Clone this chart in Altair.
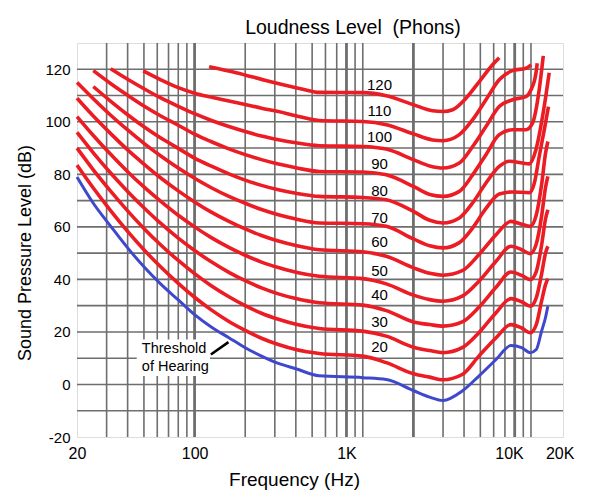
import altair as alt
import pandas as pd

# ---------------- data ----------------
F_LOW = [20, 25, 31.5, 40, 50, 63, 80, 100, 125, 160, 200, 250, 315, 400, 550]
F_HIGH = [1000, 1380, 2000, 2500, 3000, 3900, 4900, 6200, 7600, 8800, 9900, 10750, 11560, 12200, 12600]

# threshold of hearing (blue)
DB_T = [79, 69, 60.5, 52, 44.8, 38.2, 32.2, 26.6, 22, 17.8, 14, 10.8, 8, 6, 3.3,
        2.6, 1.9, -2.3, -4.8, -6.1, -2.5, 3.2, 9.5, 14.8, 14, 12.1, 13.3, 20.3, 25.5, 29.8]
DB_20 = [83.5, 74.8, 66.4, 58.3, 51.3, 44.7, 38.5, 33.2, 28.5, 24.0, 20.6, 17.6, 15.2, 13.3, 11.8,
         10.8, 8.3, 4.1, 2.8, 1.8, 3.8, 10.8, 17.8, 22.8, 21.5, 19.7, 22.8, 31.7, 38, 40.3]
DB_30 = [90, 81.7, 73.8, 66.1, 59.4, 53.1, 47.2, 42.2, 37.7, 33.4, 30.0, 27.1, 24.8, 22.9, 21.3,
         20.3, 18.4, 14.2, 12.9, 12.1, 14, 19.7, 27.3, 32.7, 31.5, 29.8, 33, 42, 50, 52.6]
DB_40 = [96, 88.2, 80.7, 73.5, 67.3, 61.3, 55.7, 51.0, 46.8, 42.7, 39.5, 36.8, 34.5, 32.7, 31.1,
         30.2, 28.1, 23.8, 22.8, 22.2, 23.8, 29.4, 37, 42.8, 41.5, 39.9, 43, 53, 63, 66.5]
DB_50 = [102, 94.8, 87.8, 81.0, 75.2, 69.7, 64.4, 60.0, 56.0, 52.2, 49.2, 46.6, 44.5, 42.7, 41.2,
         40.3, 38.3, 34, 32.3, 31.7, 33.6, 39.3, 46.9, 52.6, 51.3, 49.8, 53.5, 64, 75, 79.2]
DB_60 = [109, 102.2, 95.7, 89.3, 83.9, 78.6, 73.7, 69.5, 65.7, 62.1, 59.2, 56.7, 54.6, 52.9, 51.3,
         50.5, 48.8, 44.4, 42.3, 41.6, 43.3, 49.4, 57, 62.1, 61, 60.2, 64.5, 76, 88, 92.5]

F_70 = F_LOW + [1000, 1380, 2000, 2500, 3000, 3750, 4500, 5400, 6475, 7770, 9760, 10500, 11190, 12000, 12700]
DB_70 = [115, 108.8, 102.7, 96.9, 91.8, 87.0, 82.4, 78.5, 75.0, 71.6, 69.0, 66.6, 64.6, 63.0, 61.5,
         61.2, 60.2, 55.4, 52.8, 52.0, 54, 59.6, 67, 72.5, 73.3, 73, 77, 86.8, 97, 105.8]

F_80 = [25, 31.5, 40, 50, 63, 80, 100, 125, 160, 200, 250, 315, 400, 550,
        1000, 1380, 2000, 2500, 3000, 3750, 4500, 5400, 6475, 7430, 9760, 10700, 11980, 12830]
DB_80 = [113.4, 108.0, 102.7, 98.1, 93.8, 89.9, 86.2, 83.2, 80.2, 77.8, 75.8, 74.1, 72.8, 71.6,
         71.2, 70.3, 65.9, 62.5, 61.5, 63.4, 69.1, 76.7, 83, 85, 84, 89.4, 105.8, 118.7]

F_90 = [25, 31.5, 40, 50, 63, 80, 100, 125, 160, 200, 250, 315, 400, 550,
        1000, 1380, 2000, 2500, 3000, 3750, 4500, 5400, 6475, 7770, 9330, 10210, 11190, 11830]
DB_90 = [119.5, 114.7, 110.1, 106.0, 102.2, 98.7, 95.3, 92.5, 89.7, 87.5, 85.6, 83.9, 82.5, 81.1,
         80.9, 79.8, 75.4, 72.3, 71.6, 73.5, 79.8, 87.5, 95.1, 97, 97, 99.5, 112.2, 125.1]

F_100 = [31.7, 40, 50, 63, 80, 100, 125, 160, 200, 250, 315, 400, 550,
         1000, 1380, 2000, 2500, 3000, 3750, 4500, 5400, 6475, 7770, 9330, 10000, 10700, 10890]
DB_100 = [120.2, 116.2, 112.6, 109.1, 105.9, 103.1, 100.6, 98.2, 96.3, 94.6, 93.2, 92.0, 90.9,
          90.6, 89.6, 85.6, 83.2, 82.4, 84.3, 90.6, 98.2, 105.8, 108.4, 109.6, 112.2, 118.5, 122.3]

F_110 = [49.5, 63, 80, 100, 125, 160, 200, 250, 315, 400, 550,
         1000, 1380, 2000, 2600, 3000, 3750, 4500, 5400, 6475, 7770, 9330, 10025]
DB_110 = [119.4, 116, 113, 110.9, 109.4, 107.9, 106.6, 105.2, 103.9, 102.3, 100.5,
          100.1, 98.9, 95.4, 93.1, 92.8, 95.1, 100.8, 108.4, 116, 119.5, 120.4, 121.7]

F_120 = [122, 177, 280, 440, 554, 1000, 1380, 2000, 2600, 3000, 3420, 4110, 4930, 5910, 6475]
DB_120 = [121, 118.7, 115.3, 112.4, 111.2, 111.1, 109.9, 106.5, 104.2, 103.9, 104.6, 109, 115.3, 121.7, 124.4]

# curve labels (phons)
LABEL_TEXT = ["120", "110", "100", "90", "80", "70", "60", "50", "40", "30", "20"]
LABEL_DB = [114.1, 104.2, 94.2, 83.9, 73.5, 63.4, 54.3, 43.3, 34.2, 23.8, 14.2]
LABEL_F = 1257

# threshold annotation
ANNOT_TEXT = ["Threshold", "of Hearing"]
ANNOT_DB = [13.6, 6.8]
ANNOT_F = 48.6
BOX_F = [45.3, 123.5]
BOX_DB = [3.2, 17.1]
POINTER_F = [125, 159]
POINTER_DB = [11.4, 16.1]

# axis ticks and grid
X_TICK_VALUES = [20, 100, 800, 7400, 14800]
X_TICK_TEXT = ["20", "100", "1K", "10K", "20K"]
GRID_THIN = [30, 40, 50, 60, 70, 80, 90, 200, 300, 400, 500, 600, 700, 900, 1000,
             3000, 4000, 5000, 6000, 7000, 9000, 10000]
GRID_THICK = [100, 800, 2000, 8000]
Y_TICKS = [-20, 0, 20, 40, 60, 80, 100, 120]
Y_GRID = [-10, 0, 10, 20, 30, 40, 50, 60, 70, 80, 90, 100, 110, 120]

# ---------------- build tables ----------------
red_curves = [
    ("20", F_LOW + F_HIGH, DB_20), ("30", F_LOW + F_HIGH, DB_30),
    ("40", F_LOW + F_HIGH, DB_40), ("50", F_LOW + F_HIGH, DB_50),
    ("60", F_LOW + F_HIGH, DB_60), ("70", F_70, DB_70),
    ("80", F_80, DB_80), ("90", F_90, DB_90), ("100", F_100, DB_100),
    ("110", F_110, DB_110), ("120", F_120, DB_120),
]
rows = []
for name, fs, dbs in red_curves:
    for i, (f, d) in enumerate(zip(fs, dbs)):
        rows.append({"curve": name, "freq": f, "spl": d, "i": i})
red_df = pd.DataFrame(rows)
blue_df = pd.DataFrame({"freq": F_LOW + F_HIGH, "spl": DB_T, "i": list(range(len(DB_T)))})

labels_df = pd.DataFrame({"text": LABEL_TEXT, "spl": LABEL_DB, "freq": [LABEL_F] * len(LABEL_TEXT)})
annot_df = pd.DataFrame({"text": ANNOT_TEXT, "spl": ANNOT_DB, "freq": [ANNOT_F] * 2})
box_df = pd.DataFrame({"f1": [BOX_F[0]], "f2": [BOX_F[1]], "d1": [BOX_DB[0]], "d2": [BOX_DB[1]]})
ptr_df = pd.DataFrame({"f1": [POINTER_F[0]], "f2": [POINTER_F[1]], "d1": [POINTER_DB[0]], "d2": [POINTER_DB[1]]})
thin_df = pd.DataFrame({"freq": GRID_THIN})
thick_df = pd.DataFrame({"freq": GRID_THICK})
ygrid_df = pd.DataFrame({"spl": Y_GRID})

RED = "#ec1c24"
BLUE = "#3f48cc"
GRID = "#6e6e6e"
FONT = "Liberation Sans"

xscale = alt.Scale(type="log", domain=[20, 15500], nice=False)
yscale = alt.Scale(domain=[-20, 130], nice=False)

label_expr = " : ".join(
    f"datum.value == {v} ? '{t}'" for v, t in zip(X_TICK_VALUES, X_TICK_TEXT)
) + " : ''"

x_axis = alt.Axis(
    values=X_TICK_VALUES, labelExpr=label_expr, grid=False, ticks=False, domain=False,
    labelFontSize=16, labelPadding=8, labelFlush=False, labelOverlap=False,
    labelColor="black", labelFont=FONT,
    title="Frequency (Hz)", titleFontSize=19, titleFontWeight="normal", titleColor="black",
    titleFont=FONT, titleBaseline="alphabetic", titleY=48, titleX=217, titleAlign="center",
)
y_axis = alt.Axis(
    values=Y_TICKS, labelExpr="'' + datum.value", grid=False, ticks=False, domain=False,
    labelFontSize=15, labelPadding=7, labelColor="black", labelFont=FONT,
    title="Sound Pressure Level (dB)", titleFontSize=18, titleFontWeight="normal",
    titleColor="black", titleFont=FONT, titleBaseline="alphabetic", titleAngle=270,
    titleX=-47, titleY=209.5, titleAlign="center",
)

X = lambda f="freq": alt.X(f"{f}:Q", scale=xscale, axis=x_axis)
Y = lambda f="spl": alt.Y(f"{f}:Q", scale=yscale, axis=y_axis)

thin = alt.Chart(thin_df).mark_rule(color=GRID, strokeWidth=1.6).encode(x=X())
thick = alt.Chart(thick_df).mark_rule(color=GRID, strokeWidth=2.8).encode(x=X())
ygrid = alt.Chart(ygrid_df).mark_rule(color=GRID, strokeWidth=1.6).encode(y=Y())

box = alt.Chart(box_df).mark_rect(color="white").encode(
    x=X("f1"), x2="f2", y=Y("d1"), y2="d2")
annot = alt.Chart(annot_df).mark_text(
    align="left", baseline="middle", fontSize=14.5, font=FONT, color="black"
).encode(x=X(), y=Y(), text="text:N")
pointer = alt.Chart(ptr_df).mark_rule(color="black", strokeWidth=2.6).encode(
    x=X("f1"), x2="f2", y=Y("d1"), y2="d2")

red = alt.Chart(red_df).mark_line(
    color=RED, strokeWidth=3.6, interpolate="monotone"
).encode(x=X(), y=Y(), detail="curve:N", order="i:Q")
blue = alt.Chart(blue_df).mark_line(
    color=BLUE, strokeWidth=3.0, interpolate="monotone"
).encode(x=X(), y=Y(), order="i:Q")

labels = alt.Chart(labels_df).mark_text(
    align="center", baseline="middle", fontSize=15, font=FONT, color="black"
).encode(x=X(), y=Y(), text="text:N")

chart = alt.layer(thin, thick, ygrid, box, annot, pointer, red, blue, labels).properties(
    width=486, height=394,
    autosize=alt.AutoSizeParams(type="none"),
    padding={"left": 77, "top": 43, "right": 37, "bottom": 63},
    title=alt.TitleParams(
        text="Loudness Level\u00a0 (Phons)", fontSize=19.5, fontWeight="normal",
        font=FONT, color="black", anchor="middle", dx=33, dy=25, offset=13,
        baseline="alphabetic", frame="group",
    ),
).configure_view(stroke="black", strokeWidth=4).configure(background="white")

chart.save("out.html", embed_options={"renderer": "svg", "actions": False})
